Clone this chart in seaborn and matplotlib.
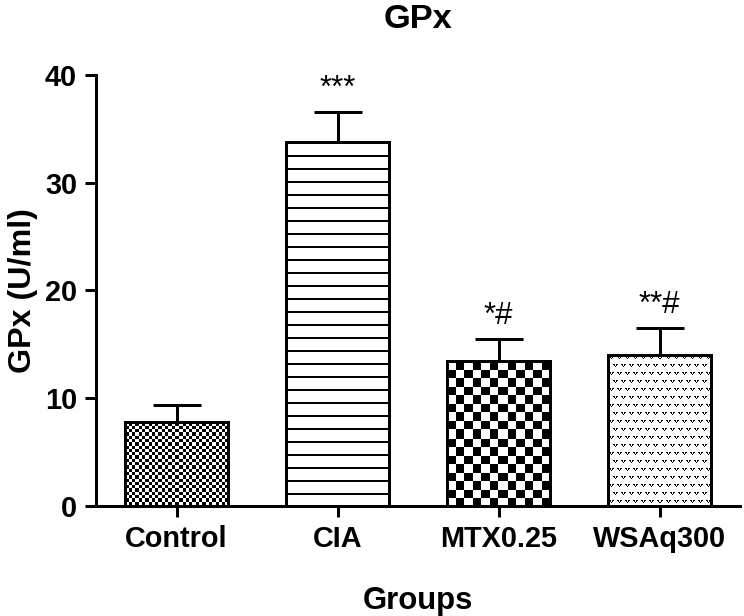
import numpy as np
import pandas as pd
import matplotlib
matplotlib.use("Agg")
import matplotlib.pyplot as plt
from matplotlib.patches import Rectangle
import seaborn as sns

groups = ["Control", "CIA", "MTX0.25", "WSAq300"]
gpx_mean = [7.8, 33.8, 13.4, 14.0]
gpx_err = [1.6, 2.8, 2.1, 2.5]
marks = ["", "***", "*#", "**#"]
y_ticks = [0, 10, 20, 30, 40]

sns.set_theme(style="ticks")
plt.rcParams["font.family"] = ["Liberation Sans", "DejaVu Sans"]
plt.rcParams.update({
    "axes.linewidth": 2.7,
    "axes.edgecolor": "black",
    "text.color": "black",
    "axes.labelcolor": "black",
    "xtick.color": "black",
    "ytick.color": "black",
})

DPI = 80
fig, ax = plt.subplots(figsize=(744 / DPI, 616 / DPI), dpi=DPI)
fig.subplots_adjust(left=0.129, right=0.995, bottom=0.179, top=0.878)

df = pd.DataFrame({"group": groups, "gpx": gpx_mean})
sns.barplot(data=df, x="group", y="gpx", ax=ax, color="white", width=0.64,
            errorbar=None, edgecolor="black", linewidth=2.7)

xpos = np.arange(len(groups))
ax.errorbar(xpos, gpx_mean, yerr=[np.zeros(len(groups)), gpx_err], fmt="none",
            ecolor="black", elinewidth=2.7, capsize=22, capthick=2.7, zorder=1)

ax.set_xlim(-0.5, len(groups) - 0.5)
ax.set_ylim(0, 40)
ax.set_yticks(y_ticks)
sns.despine(ax=ax)
ax.tick_params(axis="both", length=10, width=2.7, labelsize=26, pad=7)
for lab in ax.get_xticklabels() + ax.get_yticklabels():
    lab.set_fontweight("bold")
ax.set_xlabel("Groups", fontsize=28, fontweight="bold", labelpad=30)
ax.set_ylabel("GPx (U/ml)", fontsize=29, fontweight="bold", labelpad=6)
ax.set_title("GPx", fontsize=31, fontweight="bold", pad=42)

for x, m, e, s in zip(xpos, gpx_mean, gpx_err, marks):
    if s:
        ax.annotate(s, (x, m + e), xytext=(0, 7), textcoords="offset points",
                    ha="center", va="bottom", fontsize=28)


# ── texture fills (GraphPad style patterns) ──────────────────────────────────
def checker(h, w, cell):
    i = np.arange(h)[:, None]
    j = np.arange(w)[None, :]
    return ((np.floor(i / cell) + np.floor(j / cell)) % 2).astype(float)


def hlines(h, w, period, thick):
    i = np.arange(h)[:, None] % period
    return np.repeat((i < thick).astype(float), w, axis=1)


def vdots(h, w, period):
    i = np.arange(h)[:, None]
    j = np.arange(w)[None, :]
    row = i // period
    jj = (j + (row % 2) * (period // 2)) % period
    ii = i % period
    v = ((ii == 1) & ((jj == 1) | (jj == 2) | (jj == 4) | (jj == 5))) | \
        ((ii == 2) & ((jj == 2) | (jj == 4))) | \
        ((ii == 3) & (jj == 3))
    return v.astype(float)


fig.canvas.draw()
patterns = [lambda h, w: checker(h, w, 3.3),
            lambda h, w: hlines(h, w, 13, 2),
            lambda h, w: checker(h, w, 8.5),
            lambda h, w: vdots(h, w, 8)]
for patch, make in zip(ax.patches[:len(groups)], patterns):
    bb = patch.get_window_extent()
    w, h = int(round(bb.width)), int(round(bb.height))
    img = make(h, w)
    x0, y0 = patch.get_x(), patch.get_y()
    pw, ph = patch.get_width(), patch.get_height()
    ax.imshow(img, cmap="gray_r", vmin=0, vmax=1, origin="upper",
              extent=(x0, x0 + pw, y0, y0 + ph), interpolation="nearest",
              aspect="auto", clip_path=patch, zorder=2)
    ax.add_patch(Rectangle((x0, y0), pw, ph, fill=False, edgecolor="black",
                           linewidth=2.7, zorder=3))

ax.set_xlim(-0.5, len(groups) - 0.5)
ax.set_ylim(0, 40)
ax.set_aspect("auto")

fig.savefig("out.png", dpi=DPI)
